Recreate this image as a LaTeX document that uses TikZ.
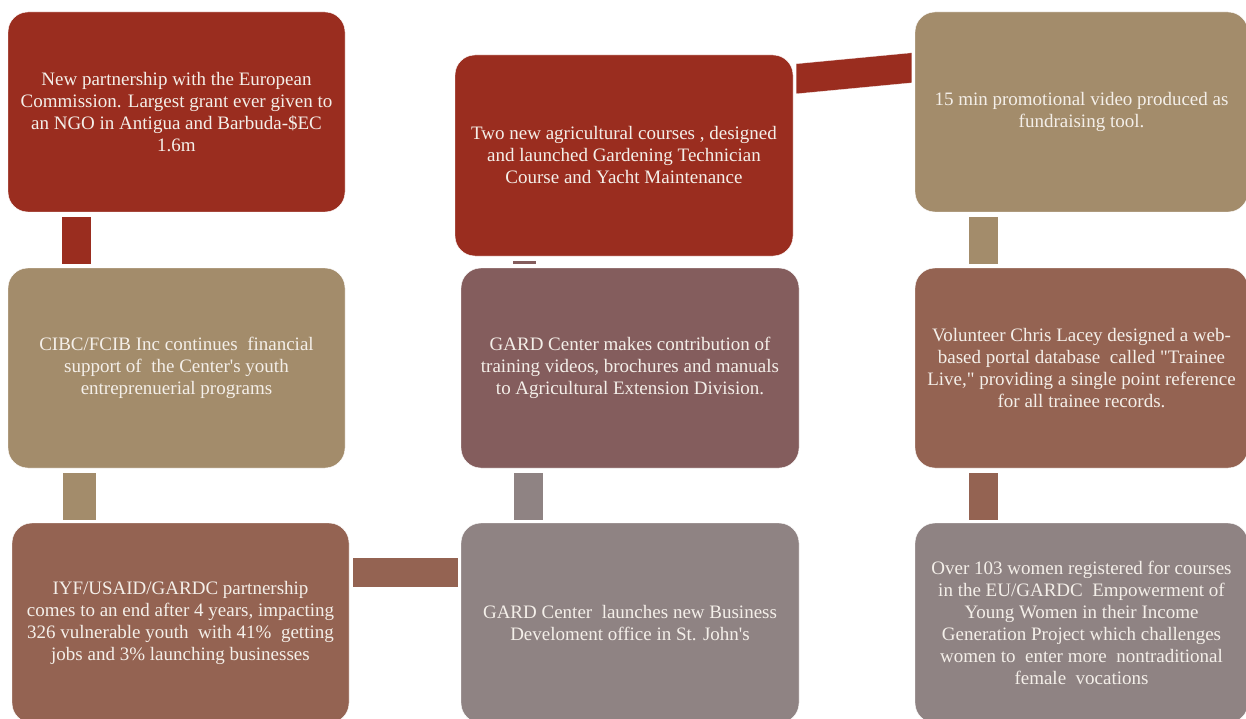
\documentclass[tikz,border=0pt]{standalone}
\usepackage{fontspec}
\newfontfamily\boxfont{Liberation Serif}
\usepackage{tikz}
\definecolor{rust}{RGB}{154,45,31}
\definecolor{sand}{RGB}{163,140,107}
\definecolor{clay}{RGB}{148,99,82}
\definecolor{plum}{RGB}{132,93,93}
\definecolor{ash}{RGB}{143,131,131}
\definecolor{cream}{RGB}{244,239,233}

\begin{document}
\begin{tikzpicture}[x=1pt,y=-1pt,
    box/.style={draw=white,thin,rounded corners=20pt,minimum width=337pt,minimum height=200pt,
      inner sep=0pt,align=center,text=cream,font=\boxfont\fontsize{19}{22}\selectfont},
    bar/.style={draw=white,very thin}]
  \useasboundingbox (0,0) rectangle (1246,719);
  \clip (0,0) rectangle (1246,719);
  % left column
  \node[box,fill=rust] (grant) at (176.5,112) {New partnership with the European\\Commission. Largest grant ever given to\\an NGO in Antigua and Barbuda-\$EC\\1.6m};
  \node[box,fill=sand] (cibc) at (176.5,368) {CIBC/FCIB Inc continues\ \ financial\\support of\ \ the Center's youth\\entreprenuerial programs};
  \node[box,fill=clay] (iyf) at (180.5,623) {IYF/USAID/GARDC partnership\\comes to an end after 4 years, impacting\\326 vulnerable youth\ \ with 41\%\ \ getting\\jobs and 3\% launching businesses};
  % middle column
  \node[box,fill=ash,minimum width=338pt] (office) at (630,623) {GARD Center\ \ launches new Business\\Develoment office in St. John's};
  \node[box,fill=plum,minimum width=338pt] (videos) at (630,368) {GARD Center makes contribution of\\training videos, brochures and manuals\\to Agricultural Extension Division.};
  \node[box,fill=rust,minimum width=338pt,minimum height=201pt] (courses) at (624,155.5) {Two new agricultural courses , designed\\and launched Gardening Technician\\Course and Yacht Maintenance};
  % right column
  \node[box,fill=sand,minimum width=333pt] (promo) at (1081.5,112) {15 min promotional video produced as\\fundraising tool.};
  \node[box,fill=clay,minimum width=333pt] (portal) at (1081.5,368) {Volunteer Chris Lacey designed a web-\\based portal database\ \ called "Trainee\\Live," providing a single point reference\\for all trainee records.};
  \node[box,fill=ash,minimum width=333pt] (women) at (1081.5,623) {Over 103 women registered for courses\\in the EU/GARDC\ \ Empowerment of\\Young Women in their Income\\Generation Project which challenges\\women to\ \ enter more\ \ nontraditional\\female\ \ vocations};
  % connecting bars
  \filldraw[bar,fill=rust] ([xshift=53pt,yshift=-4pt]grant.south west) rectangle ([xshift=83pt,yshift=4pt]cibc.north west);
  \filldraw[bar,fill=sand] ([xshift=54pt,yshift=-4pt]cibc.south west) rectangle ([xshift=84pt,yshift=3pt]iyf.north west);
  \filldraw[bar,fill=clay] ([xshift=3pt,yshift=-34pt]iyf.north east) rectangle ([xshift=-3pt,yshift=-64pt]office.north west);
  \filldraw[bar,fill=ash] ([xshift=52pt,yshift=3pt]office.north west) rectangle ([xshift=82pt,yshift=-4pt]videos.south west);
  \filldraw[bar,fill=plum] ([xshift=51pt,yshift=4pt]videos.north west) rectangle ([xshift=81pt,yshift=-4pt]courses.south west);
  \filldraw[bar,fill=rust] ([xshift=3pt,yshift=-9pt]courses.north east) -- ([xshift=-3pt,yshift=-41pt]promo.north west)
    -- ([xshift=-3pt,yshift=-71pt]promo.north west) -- ([xshift=3pt,yshift=-39pt]courses.north east) -- cycle;
  \filldraw[bar,fill=sand] ([xshift=53pt,yshift=-4pt]promo.south west) rectangle ([xshift=83pt,yshift=4pt]portal.north west);
  \filldraw[bar,fill=clay] ([xshift=53pt,yshift=-4pt]portal.south west) rectangle ([xshift=83pt,yshift=3pt]women.north west);
\end{tikzpicture}
\end{document}
